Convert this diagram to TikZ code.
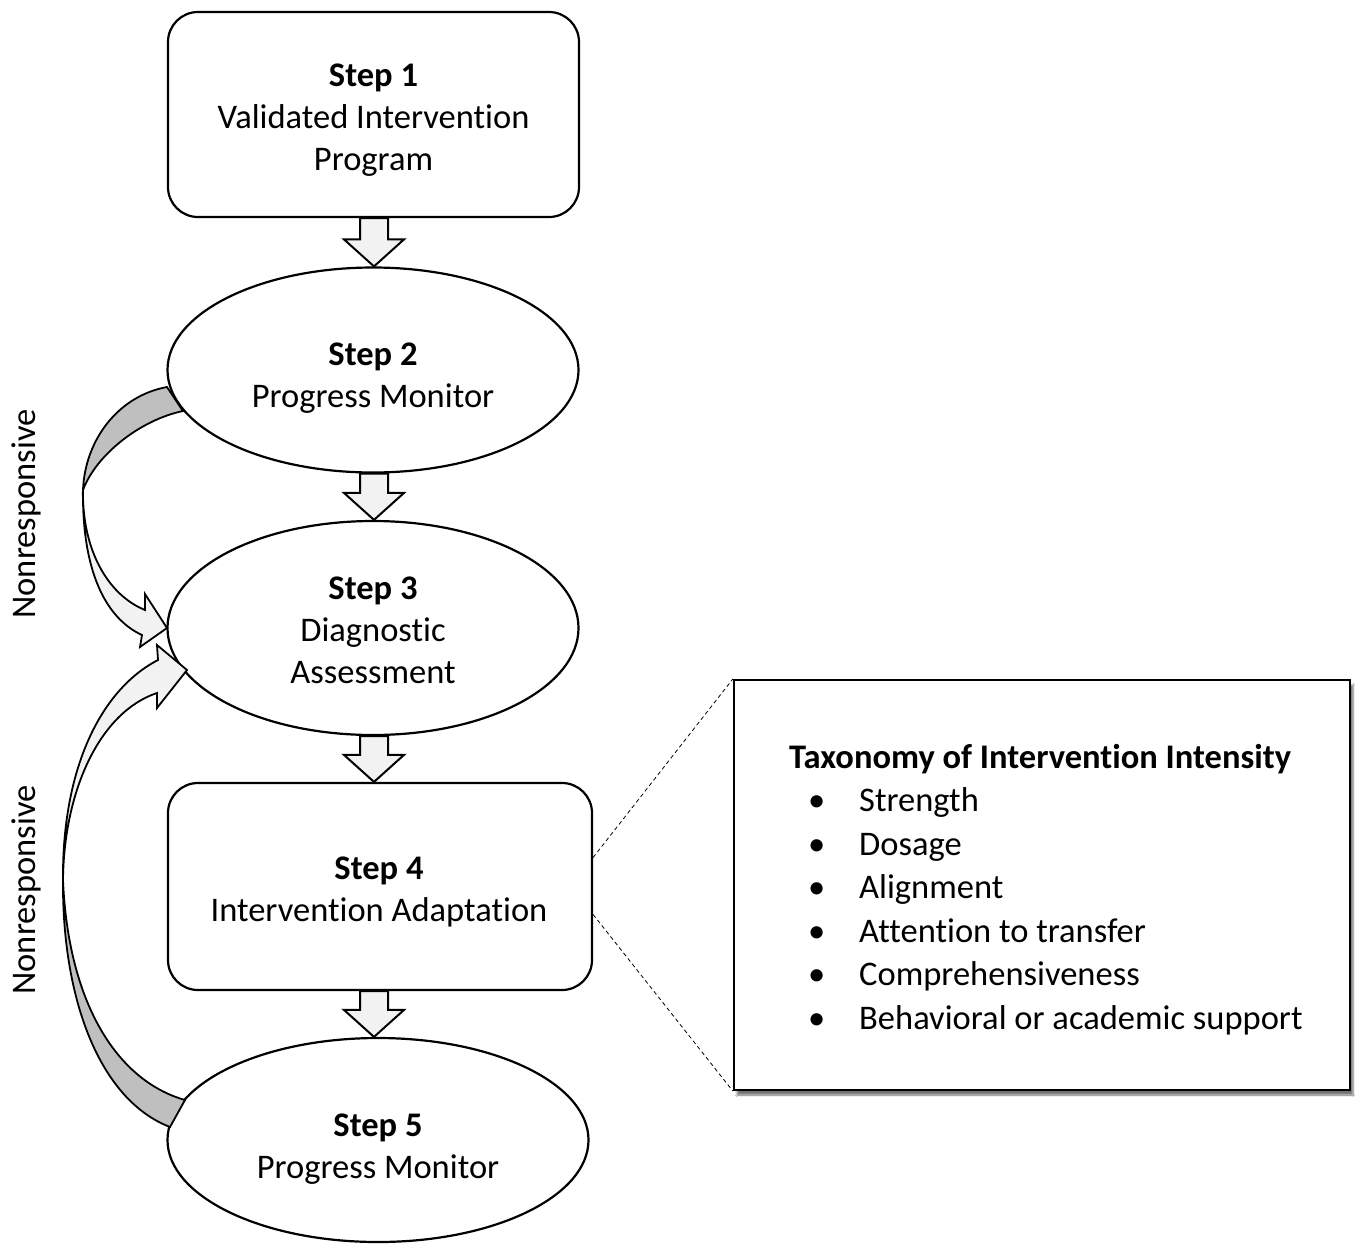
\documentclass[tikz,border=0pt]{standalone}
\usepackage{fontspec}
\setmainfont{Carlito}[Ligatures=NoCommon]
\usetikzlibrary{shapes.geometric,shadows.blur,calc}
\definecolor{lightfill}{HTML}{F2F2F2}
\definecolor{darkband}{HTML}{BFBFBF}
\newcommand\blockarrow[3]{%
  \coordinate (ax) at (#3,0);
  \draw[barrow] ($(#1.south -| ax)+(-14,0)$) -- ($(#2.north -| ax)+(-14,-27)$) -- ($(#2.north -| ax)+(-30,-27)$) -- (#2.north -| ax)
    -- ($(#2.north -| ax)+(30,-27)$) -- ($(#2.north -| ax)+(14,-27)$) -- ($(#1.south -| ax)+(14,0)$) -- cycle;}
\begin{document}
\begin{tikzpicture}[x=1pt,y=-1pt,
  every node/.style={font=\fontsize{34.5}{42}\selectfont, align=center},
  stepbox/.style={draw, line width=2.2pt, rounded corners=30pt, fill=white, inner sep=0pt},
  stepell/.style={draw, ellipse, line width=2.2pt, fill=white, inner sep=0pt},
  barrow/.style={draw, line width=2pt, fill=lightfill, line join=miter},
  band/.style={draw, line width=1.8pt, line join=miter},
  txt/.style={anchor=base west, inner sep=0pt, align=left},
]
\useasboundingbox (0,0) rectangle (1357,1243);
\fill[white] (0,0) rectangle (1357,1243);

% steps
\node[stepbox, minimum width=411pt, minimum height=205pt] (s1) at (373.5,114.5) {};
\node (l1) at (373.5,120) {\textbf{Step 1}\\Validated Intervention\\Program};
\node[stepell, minimum width=411pt, minimum height=205pt] (s2) at (373,370) {};
\node (l2) at (373,378) {\textbf{Step 2}\\Progress Monitor};
\node[stepell, minimum width=411pt, minimum height=214pt] (s3) at (373,628) {};
\node (l3) at (373,630) {\textbf{Step 3}\\Diagnostic\\Assessment};
\node[stepbox, minimum width=424pt, minimum height=207pt] (s4) at (380,886.5) {};
\node (l4) at (379,892) {\textbf{Step 4}\\Intervention Adaptation};
\node[stepell, minimum width=421pt, minimum height=204pt] (s5) at (378,1140) {};
\node (l5) at (378,1149) {\textbf{Step 5}\\Progress Monitor};

% block arrows
\blockarrow{s1}{s2}{374}
\blockarrow{s2}{s3}{374}
\blockarrow{s3}{s4}{374}
\blockarrow{s4}{s5}{374}

% upper curved arrow (Step 2 -> Step 3)
\coordinate (t1) at (83,490);
\draw[band, fill=darkband] (167,387) .. controls (118,396) and (85,440) .. (t1)
   .. controls (96,455) and (140,420) .. (183,411) -- cycle;
\draw[band, fill=lightfill] (t1) .. controls (82,550) and (108,595) .. (145,610)
   -- (145,594) -- (167,628) -- (140,647) -- (142,635)
   .. controls (105,618) and (82,570) .. (t1) -- cycle;

% lower curved arrow (Step 5 -> Step 3)
\coordinate (t2) at (63,880);
\draw[band, fill=darkband] (t2) .. controls (62,1000) and (100,1100) .. (170,1127)
   -- (185,1100) .. controls (115,1080) and (68,1000) .. (t2) -- cycle;
\draw[band, fill=lightfill] (t2) .. controls (62,770) and (100,690) .. (158,660)
   -- (157,645) -- (187,670) -- (157,708) -- (157,693)
   .. controls (100,712) and (64,790) .. (t2) -- cycle;

% labels
\node[rotate=90] (nr1) at (26,514) {Nonresponsive};
\node[rotate=90] (nr2) at (26,890) {Nonresponsive};

% taxonomy box
\node[draw, line width=2.2pt, fill=white, minimum width=616pt, minimum height=410pt, inner sep=0pt,
  blur shadow={shadow xshift=3pt, shadow yshift=-5pt, shadow blur steps=6, shadow opacity=55}] (tax) at (1042,885) {};
\draw[dashed, line width=0.8pt, dash pattern=on 4pt off 3pt] ($(s4.east)+(0,-29)$) -- (tax.north west);
\draw[dashed, line width=0.8pt, dash pattern=on 4pt off 3pt] ($(s4.east)+(0,28)$) -- (tax.south west);

\node[txt] (title) at (789,768) {\textbf{Taxonomy of Intervention Intensity}};
\foreach \y/\t [count=\i] in {811/Strength, 855/Dosage, 898/Alignment, 942/Attention to transfer, 985/Comprehensiveness, 1029/Behavioral or academic support} {
  \node[txt] (b\i) at (808,\y) {\textbullet};
  \node[txt] (it\i) at (859,\y) {\t};
}
\end{tikzpicture}
\end{document}
